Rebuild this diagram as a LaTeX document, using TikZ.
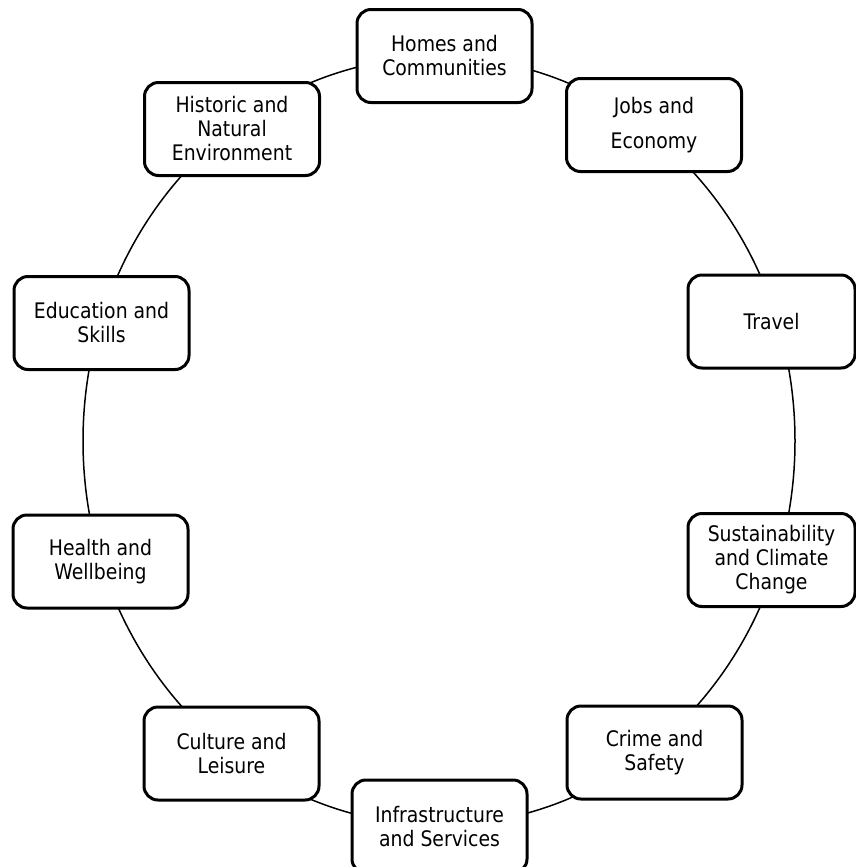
\documentclass[tikz,border=0pt]{standalone}
\usepackage{fontspec}
\setmainfont[FakeStretch=0.88]{DejaVu Sans}

\begin{document}
\begin{tikzpicture}[
    x=0.5pt, y=-0.5pt,
    theme/.style={rectangle, draw, rounded corners=7pt, line width=1.5pt, fill=white,
        align=center, minimum width=87.5pt, minimum height=46.5pt, inner sep=2pt,
        font=\fontsize{10.7}{12}\selectfont},
    edgebox/.style={theme, minimum width=83.5pt},
    ring/.style={line width=0.75pt},
]

% Canvas
\clip (0,0) rectangle (856,867);

% Ring behind the themes
\coordinate (hub) at (439,441);
\draw[ring] (hub) ellipse [x radius=178pt, y radius=192pt];

% Right half
\node[theme] (homes) at (444.5,56) {Homes and\\Communities};
\node[theme] (jobs) at (654,125) {Jobs and\\[5.5pt]Economy};
\node[edgebox] (travel) at (771.5,321.5) {Travel};
\node[edgebox] (climate) at (771.5,560) {Sustainability\\and Climate\\Change};
\node[theme] (crime) at (654.5,752.5) {Crime and\\Safety};

% Left half
\node[theme] (infra) at (439.5,826.5) {Infrastructure\\and Services};
\node[theme] (culture) at (231.5,753.5) {Culture and\\Leisure};
\node[theme] (health) at (100.5,561.5) {Health and\\Wellbeing};
\node[theme] (education) at (101.5,323) {Education and\\Skills};
\node[theme] (heritage) at (232,129) {Historic and\\Natural\\Environment};

\end{tikzpicture}
\end{document}
